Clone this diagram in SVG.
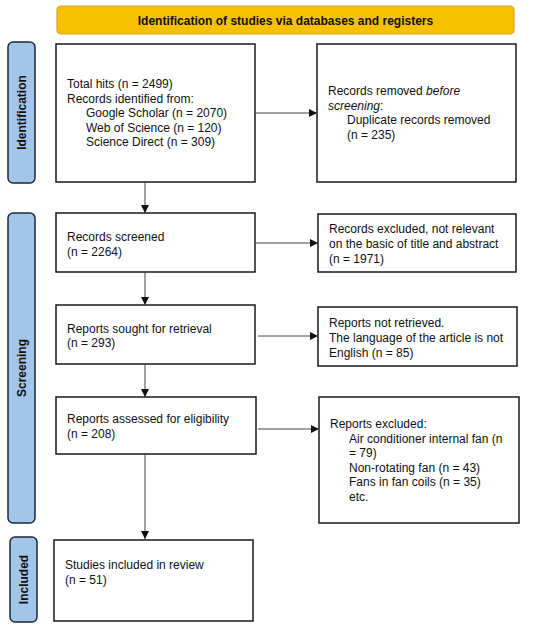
<svg xmlns="http://www.w3.org/2000/svg" width="550" height="625" viewBox="0 0 550 625">
<style>
text{font-family:"Liberation Sans",Arial,sans-serif;font-size:12px;fill:#111}
.box{fill:#fff;stroke:#1a1a1a;stroke-width:1.5}
.side{fill:#a3c5ea;stroke:#1f2a38;stroke-width:1.5}
.lbl{font-weight:bold;font-size:12px}
.conn line{stroke:#444;stroke-width:1}
</style>
<defs>
<marker id="ah" viewBox="0 0 10 10" refX="10" refY="5" markerWidth="8" markerHeight="8" markerUnits="userSpaceOnUse" orient="auto">
<path d="M0,0 L10,5 L0,10 z" fill="#111"/>
</marker>
</defs>
<g id="banner">
<rect x="57" y="6" width="457" height="28" rx="4" fill="#f7c100" stroke="#d4a52c" stroke-width="1.2"/>
<text x="285.5" y="24.5" text-anchor="middle" class="lbl">Identification of studies via databases and registers</text>
</g>
<g id="side-identification">
<rect x="8" y="42" width="27" height="141" rx="5" class="side"/>
<text transform="translate(26,112.5) rotate(-90)" text-anchor="middle" class="lbl">Identification</text>
</g>
<g id="side-screening">
<rect x="8" y="213" width="27" height="310" rx="5" class="side"/>
<text transform="translate(26,368) rotate(-90)" text-anchor="middle" class="lbl">Screening</text>
</g>
<g id="side-included">
<rect x="10" y="537" width="27" height="85" rx="5" class="side"/>
<text transform="translate(28,579.5) rotate(-90)" text-anchor="middle" class="lbl">Included</text>
</g>
<g id="n1">
<rect x="56" y="44" width="199" height="138" class="box"/>
<text x="67" y="88">Total hits (n = 2499)</text>
<text x="67" y="102.5">Records identified from:</text>
<text x="86" y="117">Google Scholar (n = 2070)</text>
<text x="86" y="131.5">Web of Science (n = 120)</text>
<text x="86" y="146">Science Direct (n = 309)</text>
</g>
<g id="n1r">
<rect x="317" y="44" width="199" height="138" class="box"/>
<text x="328" y="95">Records removed <tspan font-style="italic">before</tspan></text>
<text x="328" y="109.5"><tspan font-style="italic">screening</tspan>:</text>
<text x="347" y="124">Duplicate records removed</text>
<text x="347" y="138.5">(n = 235)</text>
</g>
<g id="n2">
<rect x="56" y="213" width="199" height="59" class="box"/>
<text x="67" y="241">Records screened</text>
<text x="67" y="255.5">(n = 2264)</text>
</g>
<g id="n2r">
<rect x="318" y="214" width="198" height="58" class="box"/>
<text x="329" y="233">Records excluded, not relevant</text>
<text x="329" y="248">on the basic of title and abstract</text>
<text x="329" y="263">(n = 1971)</text>
</g>
<g id="n3">
<rect x="56" y="305" width="199" height="59" class="box"/>
<text x="67" y="332.5">Reports sought for retrieval</text>
<text x="67" y="347">(n = 293)</text>
</g>
<g id="n3r">
<rect x="318" y="307" width="199" height="59" class="box"/>
<text x="329" y="327">Reports not retrieved.</text>
<text x="329" y="342">The language of the article is not</text>
<text x="329" y="357">English (n = 85)</text>
</g>
<g id="n4">
<rect x="56" y="397" width="200" height="57" class="box"/>
<text x="67" y="423">Reports assessed for eligibility</text>
<text x="67" y="438">(n = 208)</text>
</g>
<g id="n4r">
<rect x="319" y="397" width="200" height="126" class="box"/>
<text x="330" y="428">Reports excluded:</text>
<text x="349" y="442.5">Air conditioner internal fan (n</text>
<text x="349" y="457">= 79)</text>
<text x="349" y="471.5">Non-rotating fan (n = 43)</text>
<text x="349" y="486">Fans in fan coils (n = 35)</text>
<text x="349" y="500.5">etc.</text>
</g>
<g id="n5">
<rect x="54" y="540" width="199" height="81" class="box"/>
<text x="65" y="569">Studies included in review</text>
<text x="65" y="584">(n = 51)</text>
</g>
<g id="connectors" class="conn">
<line x1="255" y1="113" x2="317" y2="113" marker-end="url(#ah)"/>
<line x1="145" y1="182" x2="145" y2="213" marker-end="url(#ah)"/>
<line x1="256" y1="243" x2="318" y2="243" marker-end="url(#ah)"/>
<line x1="145" y1="272" x2="145" y2="305" marker-end="url(#ah)"/>
<line x1="258" y1="336" x2="318" y2="336" marker-end="url(#ah)"/>
<line x1="145" y1="364" x2="145" y2="397" marker-end="url(#ah)"/>
<line x1="258" y1="429" x2="319" y2="429" marker-end="url(#ah)"/>
<line x1="145" y1="454" x2="145" y2="539" marker-end="url(#ah)"/>
</g>
</svg>
